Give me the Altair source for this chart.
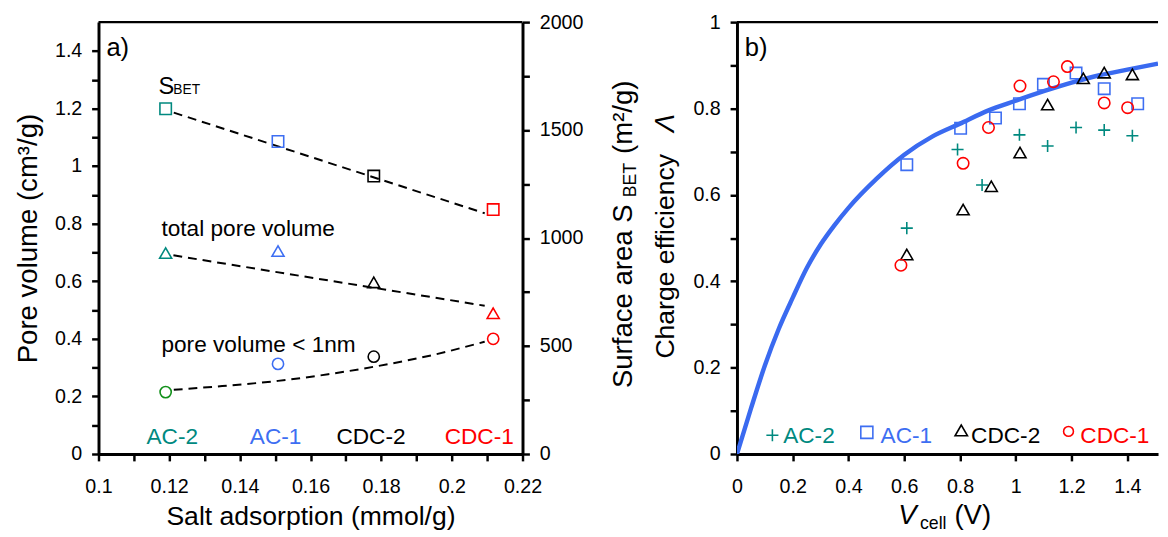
import json
import altair as alt
import pandas as pd

FONT = "Liberation Sans"
TEAL = "#00897F"
BLUE = "#3D6EF2"
RED = "#FF0000"
GREEN = "#12901A"
BLACK = "#000000"
PLUS = "M-1,0L1,0M0,-1L0,1"

# ---------------- panel a data ----------------
materials = ["AC-2", "AC-1", "CDC-2", "CDC-1"]
salt_adsorption = [0.119, 0.1508, 0.1779, 0.2117]
s_bet = [1599, 1447, 1287, 1132]
total_pore_volume = [0.698, 0.705, 0.596, 0.489]
micro_pore_volume = [0.215, 0.313, 0.338, 0.400]
material_colors = [TEAL, BLUE, BLACK, RED]
micro_colors = [GREEN, BLUE, BLACK, RED]

sbet_fit_x = [0.1213, 0.2093]
sbet_fit_y = [1581, 1115]
tpv_fit_x = [0.1212, 0.2093]
tpv_fit_y = [0.690, 0.515]
mpv_fit_x = [0.1213, 0.135, 0.1508, 0.165, 0.1779, 0.195, 0.2093]
mpv_fit_y = [0.223, 0.236, 0.254, 0.277, 0.303, 0.345, 0.390]

x_ticks_a = [0.10, 0.11, 0.12, 0.13, 0.14, 0.15, 0.16, 0.17, 0.18, 0.19, 0.20, 0.21, 0.22]
x_labels_a = ["0.1", "0.12", "0.14", "0.16", "0.18", "0.2", "0.22"]
y_ticks_a = [0, 0.1, 0.2, 0.3, 0.4, 0.5, 0.6, 0.7, 0.8, 0.9, 1.0, 1.1, 1.2, 1.3, 1.4]
y_labels_a = ["0", "0.2", "0.4", "0.6", "0.8", "1", "1.2", "1.4"]
y2_ticks_a = [0, 250, 500, 750, 1000, 1250, 1500, 1750, 2000]
y2_labels_a = ["0", "500", "1000", "1500", "2000"]

# ---------------- panel b data ----------------
series_b = ["AC-2", "AC-1", "CDC-2", "CDC-1"]
v_ac2 = [0.609, 0.791, 0.879, 1.013, 1.114, 1.216, 1.317, 1.418]
l_ac2 = [0.523, 0.705, 0.623, 0.739, 0.713, 0.756, 0.750, 0.737]
v_ac1 = [0.609, 0.802, 0.927, 1.013, 1.099, 1.216, 1.317, 1.437]
l_ac1 = [0.670, 0.754, 0.778, 0.811, 0.856, 0.882, 0.846, 0.811]
v_cdc2 = [0.609, 0.811, 0.912, 1.015, 1.114, 1.242, 1.317, 1.418]
l_cdc2 = [0.462, 0.566, 0.620, 0.698, 0.809, 0.870, 0.883, 0.879]
v_cdc1 = [0.588, 0.811, 0.902, 1.015, 1.135, 1.185, 1.317, 1.401]
l_cdc1 = [0.437, 0.673, 0.756, 0.852, 0.862, 0.897, 0.813, 0.802]
series_shapes = [PLUS, "square", "triangle-up", "circle"]
series_colors = [TEAL, BLUE, BLACK, RED]
series_sizes = [150, 135, 150, 135]

model_v = [0, 0.05, 0.1, 0.15, 0.2, 0.25, 0.3, 0.35, 0.4, 0.5, 0.6, 0.7, 0.8, 0.9,
           1.0, 1.1, 1.2, 1.3, 1.4, 1.51]
model_lambda = [0, 0.105, 0.205, 0.29, 0.362, 0.43, 0.485, 0.53, 0.57, 0.637, 0.693,
                0.735, 0.765, 0.795, 0.818, 0.84, 0.86, 0.877, 0.89, 0.904]

x_ticks_b = [0, 0.2, 0.4, 0.6, 0.8, 1.0, 1.2, 1.4]
y_ticks_b = [0, 0.1, 0.2, 0.3, 0.4, 0.5, 0.6, 0.7, 0.8, 0.9, 1.0]
y_labels_b = ["0", "0.2", "0.4", "0.6", "0.8", "1"]

W_A, W_B, H = 431, 428, 439


def label_expr(labels, fmt):
    return "indexof(%s, format(datum.value, '%s')) >= 0 ? format(datum.value, '%s') : ''" % (
        json.dumps(labels), fmt, fmt)


def txt(s, x, y, size=23, color=BLACK, **kw):
    return alt.Chart(pd.DataFrame({"t": [s]})).mark_text(
        font=FONT, fontSize=size, color=color, align=kw.pop("align", "left"),
        baseline=kw.pop("baseline", "alphabetic"), **kw
    ).encode(x=alt.value(x), y=alt.value(y), text="t:N")


def sym(shape, x, y, size, color):
    return alt.Chart(pd.DataFrame({"a": [0]})).mark_point(
        shape=shape, size=size, color=color, filled=False, opacity=1, strokeWidth=1.6
    ).encode(x=alt.value(x), y=alt.value(y))


def top_border(w):
    return alt.Chart(pd.DataFrame({"a": [0]})).mark_rule(color=BLACK, strokeWidth=2.5).encode(
        x=alt.value(0), x2=alt.value(w), y=alt.value(0))


# ---------------- panel a ----------------
xs_a = alt.Scale(domain=[0.1, 0.22], nice=False, zero=False)
ys_a = alt.Scale(domain=[0, 1.5], nice=False)
ys2_a = alt.Scale(domain=[0, 2000], nice=False)

x_axis_a = alt.Axis(values=x_ticks_a, labelExpr=label_expr(x_labels_a, ".2~f"),
                    title="Salt adsorption (mmol/g)", titleFontSize=27, titlePadding=8,
                    labelPadding=16, labelFlush=False, labelOverlap=False)
y_axis_a = alt.Axis(values=y_ticks_a, labelExpr=label_expr(y_labels_a, ".1~f"),
                    title="Pore volume (cm³/g)", titleFontSize=28, titlePadding=12,
                    labelOverlap=False, labelFlush=False)
y2_axis_a = alt.Axis(orient="right", values=y2_ticks_a, labelExpr=label_expr(y2_labels_a, "d"),
                     title=None, labelOverlap=False, labelFlush=False)

df_a = pd.DataFrame({
    "material": materials, "x": salt_adsorption, "sbet": s_bet,
    "tpv": total_pore_volume, "mpv": micro_pore_volume,
    "c": material_colors, "cm": micro_colors,
})
X_A = alt.X("x:Q", scale=xs_a, axis=x_axis_a)

tpv_line = alt.Chart(pd.DataFrame({"x": tpv_fit_x, "y": tpv_fit_y})).mark_line(
    color=BLACK, strokeWidth=2, strokeDash=[9, 6]).encode(
    x=X_A, y=alt.Y("y:Q", scale=ys_a, axis=y_axis_a))
mpv_line = alt.Chart(pd.DataFrame({"x": mpv_fit_x, "y": mpv_fit_y})).mark_line(
    color=BLACK, strokeWidth=2, strokeDash=[9, 6], interpolate="monotone").encode(
    x=X_A, y=alt.Y("y:Q", scale=ys_a, axis=y_axis_a))
tri = alt.Chart(df_a).mark_point(shape="triangle-up", size=150, filled=False, opacity=1,
                                 strokeWidth=1.6).encode(
    x=X_A, y=alt.Y("tpv:Q", scale=ys_a, axis=y_axis_a), color=alt.Color("c:N", scale=None))
circ = alt.Chart(df_a).mark_point(shape="circle", size=130, filled=False, opacity=1,
                                  strokeWidth=1.6).encode(
    x=X_A, y=alt.Y("mpv:Q", scale=ys_a, axis=y_axis_a), color=alt.Color("cm:N", scale=None))

texts_a = [
    txt("a)", 8, 34, size=26),
    txt("S", 61, 73, size=24),
    txt("BET", 76, 73, size=14),
    txt("total pore volume", 64, 217),
    txt("pore volume < 1nm", 64, 335),
    txt(materials[0], 75, 429, color=material_colors[0], align="center"),
    txt(materials[1], 180, 429, color=material_colors[1], align="center"),
    txt(materials[2], 277, 429, color=material_colors[2], align="center"),
    txt(materials[3], 387, 429, color=material_colors[3], align="center"),
    txt("Surface area S", 542, 372, size=28, angle=270),
    txt("BET", 546, 178, size=18, angle=270),
    txt("(m²/g)", 542, 134, size=28, angle=270),
]

left_a = alt.layer(top_border(W_A), tpv_line, mpv_line, tri, circ, *texts_a)

sbet_line = alt.Chart(pd.DataFrame({"x": sbet_fit_x, "y": sbet_fit_y})).mark_line(
    color=BLACK, strokeWidth=2, strokeDash=[9, 6]).encode(
    x=X_A, y=alt.Y("y:Q", scale=ys2_a, axis=y2_axis_a))
squares = alt.Chart(df_a).mark_point(shape="square", size=135, filled=False, opacity=1,
                                     strokeWidth=1.6).encode(
    x=X_A, y=alt.Y("sbet:Q", scale=ys2_a, axis=y2_axis_a), color=alt.Color("c:N", scale=None))
right_a = alt.layer(sbet_line, squares)

panel_a = alt.layer(left_a, right_a).resolve_scale(y="independent").properties(width=W_A, height=H)

# ---------------- panel b ----------------
xs_b = alt.Scale(domain=[0, 1.51], nice=False)
ys_b = alt.Scale(domain=[0, 1], nice=False)
x_axis_b = alt.Axis(values=x_ticks_b, format="~g", title=None, labelPadding=16,
                    labelFlush=False, labelOverlap=False)
y_axis_b = alt.Axis(values=y_ticks_b, labelExpr=label_expr(y_labels_b, ".1~f"),
                    title=None, labelOverlap=False, labelFlush=False)

rows = []
for name, vs, ls, shp, col, sz in zip(series_b, [v_ac2, v_ac1, v_cdc2, v_cdc1],
                                      [l_ac2, l_ac1, l_cdc2, l_cdc1],
                                      series_shapes, series_colors, series_sizes):
    for v, l in zip(vs, ls):
        rows.append({"series": name, "v": v, "l": l, "shape": shp, "c": col, "sz": sz})
df_b = pd.DataFrame(rows)

X_B = alt.X("v:Q", scale=xs_b, axis=x_axis_b)
Y_B = alt.Y("l:Q", scale=ys_b, axis=y_axis_b)

curve = alt.Chart(pd.DataFrame({"v": model_v, "l": model_lambda})).mark_line(
    color="#3A6AF0", strokeWidth=4.5, clip=True, interpolate="monotone").encode(x=X_B, y=Y_B)
pts = alt.Chart(df_b).mark_point(filled=False, opacity=1, strokeWidth=1.6).encode(
    x=X_B, y=Y_B,
    shape=alt.Shape("shape:N", scale=None),
    color=alt.Color("c:N", scale=None),
    size=alt.Size("sz:Q", scale=None),
)

legend_b = [
    sym(PLUS, 36, 420, 150, TEAL), txt("AC-2", 47, 428, color=TEAL),
    sym("square", 132, 417, 150, BLUE), txt("AC-1", 146, 428, color=BLUE),
    sym("triangle-up", 228, 415, 160, BLACK), txt("CDC-2", 238, 428, color=BLACK),
    sym("circle", 337, 416, 100, RED), txt("CDC-1", 349, 428, color=RED),
]
texts_b = [
    txt("b)", 8, 34, size=26),
    txt("V", 164, 510, size=28, fontStyle="italic"),
    txt("cell", 186, 515, size=18),
    txt("(V)", 221, 510, size=28),
    txt("Charge efficiency", -64, 342, size=27, angle=270),
    txt("Λ", -64, 112, size=28, angle=270, fontStyle="italic"),
]

panel_b = alt.layer(top_border(W_B), curve, pts, *legend_b, *texts_b).properties(width=W_B, height=H)

chart = alt.hconcat(panel_a, panel_b, spacing=218, bounds="flush").properties(
    padding={"left": 7, "top": 0, "right": 0, "bottom": 0}
).configure_view(strokeWidth=0).configure_axis(
    domainColor=BLACK, domainWidth=3, tickColor=BLACK, tickWidth=2.5, tickSize=7,
    labelFont=FONT, labelFontSize=20, labelColor=BLACK, labelPadding=10,
    titleFont=FONT, titleColor=BLACK, titleFontWeight="normal", grid=False,
)

chart.save("out.html", embed_options={"renderer": "svg", "actions": False})
